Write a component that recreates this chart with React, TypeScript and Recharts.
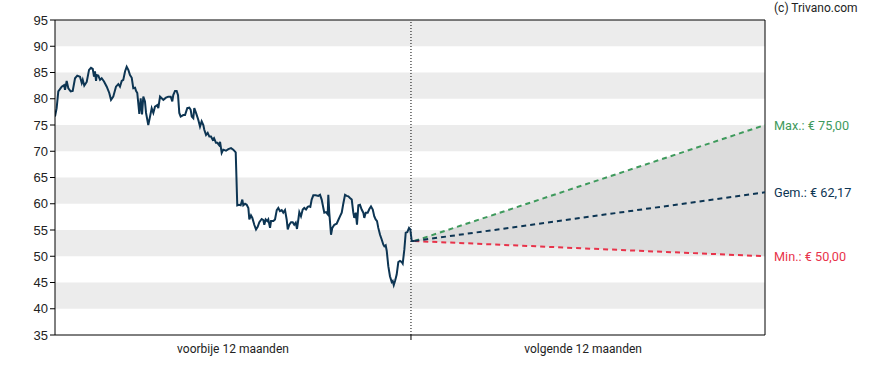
import React from 'react';
import {
  ComposedChart, Line, Area, XAxis, YAxis, ReferenceArea, ReferenceLine, ReferenceDot,
} from 'recharts';

// Historical prices: day since start of the past 12-month window
const histDays = [
  0, 1.7, 3.4, 6.9, 9.3, 10.3, 12.0, 13.7, 16.1, 18.2, 20.6, 22.9, 25.7, 27.5, 28.5, 30.1, 32.6, 35.0, 37.0, 38.8,
  40.1, 41.1, 42.2, 42.9, 44.5, 46.3, 48.0, 50.4, 53.2, 55.8, 57.6, 59.9, 62.7, 65.1, 66.8, 68.6, 70.2, 72.0, 73.7, 75.4,
  77.1, 78.9, 80.5, 82.3, 83.3, 84.6, 86.7, 88.1, 89.5, 90.8, 92.5, 93.6, 95.9, 97.7, 99.4, 101.1, 102.8, 105.2, 106.2, 108.0,
  109.7, 111.4, 114.1, 116.5, 119.0, 120.6, 121.6, 123.4, 125.1, 126.5, 127.8, 129.2, 131.9, 133.7, 136.0, 138.1, 139.5, 140.6, 142.2, 143.2,
  145.0, 147.3, 149.1, 150.8, 152.5, 153.5, 155.3, 157.0, 158.7, 160.4, 162.1, 163.5, 165.5, 166.9, 168.6, 169.7, 171.4, 173.0, 175.8, 178.2,
  181.0, 183.3, 185.8, 187.4, 189.2, 190.9, 192.6, 193.6, 195.4, 197.1, 198.8, 199.8, 201.5, 202.9, 204.9, 206.7, 208.4, 210.1, 212.5, 214.2,
  215.2, 216.6, 218.3, 219.3, 221.1, 222.1, 224.5, 226.2, 228.0, 229.6, 231.3, 233.1, 234.7, 236.5, 238.2, 239.3, 240.9, 242.7, 244.4, 246.0,
  247.5, 248.8, 250.2, 251.2, 252.9, 254.7, 256.3, 258.1, 259.8, 261.2, 262.5, 263.9, 265.6, 268.1, 270.7, 272.5, 274.2, 275.9, 276.9, 278.6,
  280.4, 281.0, 282.0, 283.8, 285.1, 287.2, 289.6, 291.3, 293.0, 294.8, 296.4, 298.2, 299.9, 301.6, 303.3, 305.1, 306.7, 307.7, 309.2, 310.5,
  311.9, 313.6, 315.3, 317.0, 318.0, 319.5, 321.5, 323.2, 324.9, 326.7, 328.3, 329.7, 331.1, 332.4, 334.2, 335.9, 337.6, 338.6, 340.0, 341.1,
  342.7, 344.4, 346.2, 347.2, 348.3, 349.6, 351.3, 353.0, 354.7, 356.5, 357.5, 359.2, 360.6, 362.2, 364.0, 365.3, 366.8, 369.4,
];
const histPrices = [
  76.6, 78.2, 81.4, 82.3, 82.6, 81.7, 83.4, 82.0, 81.4, 81.5, 83.9, 84.4, 84.2, 83.0, 83.6, 82.5, 83.2, 85.5, 85.9, 85.7,
  84.2, 85.2, 83.4, 84.5, 84.4, 83.6, 83.9, 83.3, 82.3, 81.1, 79.8, 80.4, 82.3, 82.8, 82.3, 83.4, 83.6, 85.2, 86.1, 85.5,
  84.5, 84.0, 82.0, 82.1, 81.5, 81.1, 77.1, 80.1, 77.0, 80.4, 79.5, 77.3, 75.0, 76.6, 78.2, 77.3, 78.5, 78.8, 78.2, 80.4,
  80.1, 79.8, 80.2, 80.4, 80.4, 79.5, 80.7, 81.5, 81.5, 80.7, 77.3, 76.6, 76.9, 76.9, 78.2, 78.3, 77.9, 76.6, 76.3, 78.2,
  77.3, 76.0, 74.7, 75.7, 75.0, 74.1, 73.1, 73.5, 72.8, 72.8, 72.2, 72.5, 71.6, 71.6, 71.2, 71.8, 69.7, 70.3, 70.1, 70.4,
  70.6, 70.3, 69.8, 59.7, 59.8, 59.7, 60.8, 59.7, 60.0, 59.8, 59.2, 57.0, 57.8, 57.3, 56.0, 55.1, 55.6, 56.5, 57.1, 56.9,
  56.0, 57.0, 56.7, 57.0, 55.4, 56.7, 56.7, 57.0, 58.8, 59.2, 58.6, 58.8, 58.3, 58.8, 57.0, 55.1, 56.0, 56.5, 56.5, 56.0,
  56.4, 55.2, 57.0, 58.4, 57.6, 58.9, 59.2, 58.9, 59.4, 59.5, 59.4, 60.8, 61.6, 61.6, 61.5, 61.7, 60.8, 59.2, 58.3, 58.4,
  58.0, 61.7, 58.3, 54.1, 55.4, 56.0, 56.2, 56.9, 57.6, 58.3, 60.0, 61.7, 61.5, 61.4, 61.1, 60.8, 58.3, 57.3, 58.3, 56.0,
  59.7, 59.8, 58.9, 58.3, 57.3, 58.3, 58.3, 59.0, 59.5, 58.9, 57.6, 57.0, 56.7, 55.4, 54.1, 53.2, 52.2, 51.9, 52.1, 51.0,
  48.1, 46.2, 45.1, 45.3, 44.5, 45.3, 46.5, 48.9, 49.1, 48.9, 48.6, 51.3, 54.5, 54.6, 55.4, 55.1, 52.9, 52.9,
];

// Forecast (next 12 months)
const forecastDays = [369.4, 730];
const forecastMax = [52.9, 75.0];
const forecastAvg = [52.9, 62.17];
const forecastMin = [52.9, 50.0];

const yTicks = [35, 40, 45, 50, 55, 60, 65, 70, 75, 80, 85, 90, 95];
const bandStarts = [40, 50, 60, 70, 80, 90];
const todayDay = 366;
const periodLabels = [
  { day: 183, text: 'voorbije 12 maanden' },
  { day: 543, text: 'volgende 12 maanden' },
];
const targetLabels = [
  { value: 75.0, text: 'Max.: € 75,00', color: '#3e9a5c' },
  { value: 62.17, text: 'Gem.: € 62,17', color: '#0d3553' },
  { value: 50.0, text: 'Min.: € 50,00', color: '#e8334a' },
];

const data: any[] = histDays.map((d, i) => ({ day: d, price: histPrices[i] }));
forecastDays.forEach((d, i) => {
  data.push({
    day: d,
    max: forecastMax[i],
    avg: forecastAvg[i],
    min: forecastMin[i],
    range: [forecastMin[i], forecastMax[i]],
  });
});

const XTick = (props: any) => {
  const { x, y, payload } = props;
  if (payload.value === todayDay) {
    return <line x1={x} y1={y} x2={x} y2={y + 5} stroke="#000" strokeWidth={1} />;
  }
  const lbl = periodLabels.find((p) => p.day === payload.value);
  return (
    <text x={x} y={y + 18} textAnchor="middle" fontSize={12} fontFamily="Roboto, sans-serif" fill="#222">
      {lbl ? lbl.text : ''}
    </text>
  );
};

export default function App() {
  return (
    <div style={{ position: 'absolute', left: 0, top: 0, width: 888, height: 370, background: '#fff' }}>
      <ComposedChart
        width={888}
        height={370}
        data={data}
        margin={{ top: 20, right: 123, left: 0, bottom: 0 }}
      >
        {bandStarts.map((b) => (
          <ReferenceArea key={b} y1={b} y2={b + 5} fill="#ececec" fillOpacity={1} stroke="none" ifOverflow="visible" />
        ))}
        <XAxis
          dataKey="day"
          type="number"
          domain={[0, 730]}
          ticks={[183, todayDay, 543]}
          interval={0}
          tick={<XTick />}
          tickLine={false}
          tickSize={0}
          tickMargin={0}
          height={35}
          axisLine={{ stroke: '#000', strokeWidth: 1 }}
          allowDataOverflow
        />
        <YAxis
          type="number"
          domain={[35, 95]}
          ticks={yTicks}
          interval={0}
          width={55}
          tickSize={5}
          tickMargin={2}
          tickLine={{ stroke: '#000' }}
          axisLine={{ stroke: '#000', strokeWidth: 1 }}
          tick={{ fontSize: 13, fontFamily: '"Liberation Sans", Arial, sans-serif', fill: '#222' }}
          allowDataOverflow
        />
        <Area
          dataKey="range"
          stroke="none"
          fill="#dcdcdc"
          fillOpacity={1}
          isAnimationActive={false}
          activeDot={false}
          dot={false}
        />
        <ReferenceLine y={95} stroke="#000" strokeWidth={1} />
        <ReferenceLine x={730} stroke="#000" strokeWidth={1} />
        <ReferenceLine x={todayDay} stroke="#000" strokeWidth={1} strokeDasharray="1 2" />
        <Line dataKey="max" stroke="#3e9a5c" strokeWidth={2} strokeDasharray="5 4" dot={false} isAnimationActive={false} />
        <Line dataKey="min" stroke="#e8334a" strokeWidth={2} strokeDasharray="5 4" dot={false} isAnimationActive={false} />
        <Line dataKey="avg" stroke="#0d3553" strokeWidth={2} strokeDasharray="5 4" dot={false} isAnimationActive={false} />
        <Line dataKey="price" stroke="#0d3553" strokeWidth={2} dot={false} isAnimationActive={false} />
        {targetLabels.map((t) => (
          <ReferenceDot
            key={t.text}
            x={730}
            y={t.value}
            r={0}
            fill="none"
            stroke="none"
            ifOverflow="visible"
            label={{
              value: t.text,
              position: 'right',
              offset: 9,
              fill: t.color,
              fontSize: 12.7,
              fontFamily: 'Roboto, sans-serif',
            }}
          />
        ))}
      </ComposedChart>
      <div
        style={{
          position: 'absolute',
          left: 774,
          top: 1,
          fontFamily: 'Roboto, sans-serif',
          fontSize: 12,
          color: '#222',
          whiteSpace: 'nowrap',
        }}
      >
        (c) Trivano.com
      </div>
    </div>
  );
}
